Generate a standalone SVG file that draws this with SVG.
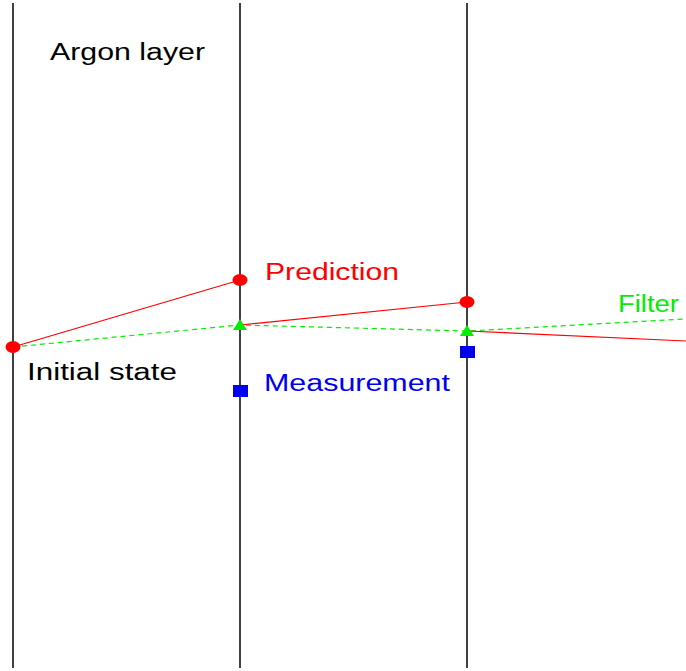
<svg xmlns="http://www.w3.org/2000/svg" width="686" height="671" viewBox="0 0 686 671">
<style>
.layer{stroke:#000;stroke-width:1.5;fill:none}
.pred{stroke:#ff0000;stroke-width:1.2;fill:none}
.filt{stroke:#00ee00;stroke-width:1.2;fill:none;stroke-dasharray:5,4}
text{font-family:"Liberation Sans",Arial,sans-serif;font-size:23px}
</style>
<rect width="686" height="671" fill="#fff"/>
<g id="layers">
<line class="layer" x1="13" y1="3" x2="13" y2="668"/>
<line class="layer" x1="240" y1="3" x2="240" y2="668"/>
<line class="layer" x1="467" y1="3" x2="467" y2="668"/>
</g>
<g id="connectors">
<polyline class="filt" points="13,347 240,325 467,331 686,319"/>
<line class="pred" x1="13" y1="347" x2="240" y2="280"/>
<line class="pred" x1="240" y1="325" x2="467" y2="302"/>
<line class="pred" x1="467" y1="331" x2="686" y2="341"/>
</g>
<g id="initial"><ellipse cx="13" cy="347" rx="7.5" ry="6" fill="#ff0000"/></g>
<g id="pred1"><ellipse cx="240" cy="280" rx="7.5" ry="6" fill="#ff0000"/></g>
<g id="pred2"><ellipse cx="467" cy="302" rx="7.5" ry="6" fill="#ff0000"/></g>
<g id="filt1"><polygon points="240,319 247,330 233,330" fill="#00ee00"/></g>
<g id="filt2"><polygon points="467,325 474,336 460,336" fill="#00ee00"/></g>
<g id="meas1"><rect x="233" y="385" width="15" height="12" fill="#0000ee"/></g>
<g id="meas2"><rect x="460" y="346" width="15" height="12" fill="#0000ee"/></g>
<g id="labels">
<text x="50" y="60" textLength="155" lengthAdjust="spacingAndGlyphs" fill="#000">Argon layer</text>
<text x="265" y="280" textLength="134" lengthAdjust="spacingAndGlyphs" fill="#ff0000">Prediction</text>
<text x="618" y="312" textLength="61" lengthAdjust="spacingAndGlyphs" fill="#00ee00">Filter</text>
<text x="27" y="380" textLength="150" lengthAdjust="spacingAndGlyphs" fill="#000">Initial state</text>
<text x="264" y="391" textLength="186" lengthAdjust="spacingAndGlyphs" fill="#0000ee">Measurement</text>
</g>
</svg>
